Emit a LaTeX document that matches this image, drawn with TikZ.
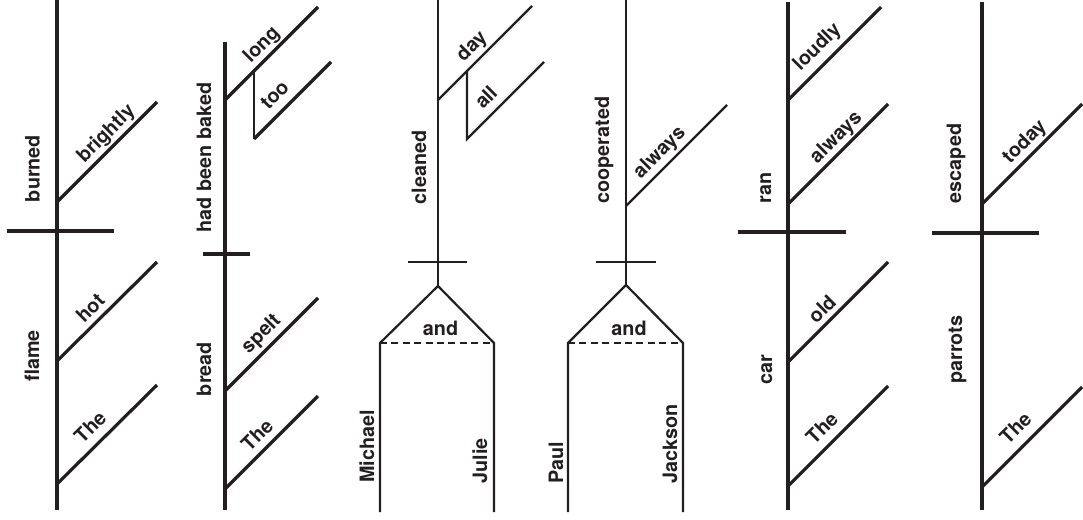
\documentclass[tikz,border=0pt]{standalone}
\usepackage{fontspec}
\setmainfont{TeX Gyre Heros}
\usetikzlibrary{calc}
\definecolor{ink}{RGB}{35,31,32}
\begin{document}
\begin{tikzpicture}[x=1pt,y=1pt,
  thickln/.style={line width=3.2pt, draw=ink},
  thinln/.style={line width=2.2pt, draw=ink},
  dashln/.style={line width=2pt, draw=ink, dash pattern=on 7pt off 4.4pt},
  word/.style={font=\fontsize{19.8}{20}\selectfont\bfseries, text=ink, inner sep=0pt},
  vword/.style={word, rotate=90, anchor=base},
  dword/.style={word, rotate=45, anchor=base},
  hword/.style={word, anchor=base}]
\useasboundingbox (0,0) rectangle (1083,-519);

% ---------- Diagram 1: The hot flame burned brightly
\coordinate (a1t) at (57,0);     \coordinate (a1b) at (57,-510);
\coordinate (a1l) at (7,-231);   \coordinate (a1r) at (114,-231);
\coordinate (a1p) at (57,-202);  \coordinate (a1q) at (157,-102);
\coordinate (a1m) at (57,-361);  \coordinate (a1n) at (157,-262);
\coordinate (a1u) at (57,-484);  \coordinate (a1v) at (157,-385);
\draw[thickln] (a1t) -- (a1b);
\draw[thickln] (a1l) -- (a1r);
\draw[thickln] (a1p) -- (a1q);
\draw[thickln] (a1m) -- (a1n);
\draw[thickln] (a1u) -- (a1v);
\node[vword] (w1a) at (39.5,-168.5) {burned};
\node[vword] (w1b) at (39,-356) {flame};
\node[dword] (w1c) at ($(a1p)+(45:83)+(135:7.7)$) {brightly};
\node[dword] (w1d) at ($(a1m)+(45:61)+(135:7)$) {hot};
\node[dword] (w1e) at ($(a1u)+(45:64)+(135:10)$) {The};

% ---------- Diagram 2: The spelt bread had been baked too long
\coordinate (a2t) at (225,-42);  \coordinate (a2b) at (225,-510);
\coordinate (a2l) at (203,-254); \coordinate (a2r) at (250,-254);
\coordinate (a2p) at (225,-100); \coordinate (a2q) at (318,-7);
\coordinate (a2k) at (254,-71);  \coordinate (a2j) at (254,-139);
\coordinate (a2z) at (331,-62);
\coordinate (a2m) at (225,-391); \coordinate (a2n) at (318,-298);
\coordinate (a2u) at (225,-489); \coordinate (a2v) at (318,-396);
\draw[thickln] (a2t) -- (a2b);
\draw[thickln] (a2l) -- (a2r);
\draw[thickln] (a2p) -- (a2q);
\draw[thinln] (a2k) -- (a2j);
\draw[thickln] (a2j) -- (a2z);
\draw[thickln] (a2m) -- (a2n);
\draw[thickln] (a2u) -- (a2v);
\node[vword] (w2a) at (211,-157.5) {had been baked};
\node[vword] (w2b) at (211,-369) {bread};
\node[dword] (w2c) at ($(a2p)+(45:65)+(135:7.4)$) {long};
\node[dword] (w2d) at ($(a2j)+(45:46)+(135:10)$) {too};
\node[dword] (w2e) at ($(a2m)+(45:66)+(135:9)$) {spelt};
\node[dword] (w2f) at ($(a2u)+(45:61)+(135:8.5)$) {The};

% ---------- Diagram 3: Michael and Julie cleaned all day
\coordinate (a3t) at (438,0);    \coordinate (a3x) at (438,-286);
\coordinate (a3l) at (408,-262); \coordinate (a3r) at (467,-262);
\coordinate (a3p) at (438,-100); \coordinate (a3q) at (532,-6);
\coordinate (a3k) at (467,-71);  \coordinate (a3j) at (467,-139);
\coordinate (a3z) at (544,-62);
\coordinate (a3fl) at (380,-343); \coordinate (a3fr) at (494,-343);
\coordinate (a3bl) at (380,-512); \coordinate (a3br) at (494,-512);
\draw[thinln] (a3t) -- (a3x);
\draw[thinln] (a3l) -- (a3r);
\draw[thinln] (a3p) -- (a3q);
\draw[thinln] (a3k) -- (a3j) -- (a3z);
\draw[thinln] (a3bl) -- (a3fl) -- (a3x) -- (a3fr) -- (a3br);
\draw[dashln] (a3fl) -- (a3fr);
\node[vword] (w3a) at (426,-167.5) {cleaned};
\node[vword] (w3b) at (374,-446.5) {Michael};
\node[vword] (w3c) at (487,-461) {Julie};
\node[hword] (w3d) at (440.5,-335) {and};
\node[dword] (w3e) at ($(a3p)+(45:62)+(135:8.4)$) {day};
\node[dword] (w3f) at ($(a3j)+(45:43)+(135:9.3)$) {all};

% ---------- Diagram 4: Paul and Jackson always cooperated
\coordinate (a4t) at (626,0);    \coordinate (a4x) at (626,-285);
\coordinate (a4l) at (596,-262); \coordinate (a4r) at (656,-262);
\coordinate (a4p) at (626,-206); \coordinate (a4q) at (727,-105);
\coordinate (a4fl) at (568,-343); \coordinate (a4fr) at (683,-343);
\coordinate (a4bl) at (568,-512); \coordinate (a4br) at (683,-512);
\draw[thinln] (a4t) -- (a4x);
\draw[thinln] (a4l) -- (a4r);
\draw[thinln] (a4p) -- (a4q);
\draw[thinln] (a4bl) -- (a4fl) -- (a4x) -- (a4fr) -- (a4br);
\draw[dashln] (a4fl) -- (a4fr);
\node[vword] (w4a) at (609,-150) {cooperated};
\node[vword] (w4b) at (563,-462.5) {Paul};
\node[vword] (w4c) at (677,-444) {Jackson};
\node[hword] (w4d) at (629,-335) {and};
\node[dword] (w4e) at ($(a4p)+(45:61.5)+(135:8.4)$) {always};

% ---------- Diagram 5: The old car always ran loudly
\coordinate (a5t) at (788,-2);   \coordinate (a5b) at (788,-510);
\coordinate (a5l) at (738,-232); \coordinate (a5r) at (846,-232);
\coordinate (a5p) at (788,-100); \coordinate (a5q) at (881,-7);
\coordinate (a5s) at (788,-204); \coordinate (a5w) at (888,-104);
\coordinate (a5m) at (788,-362); \coordinate (a5n) at (888,-262);
\coordinate (a5u) at (788,-486); \coordinate (a5v) at (888,-386);
\draw[thickln] (a5t) -- (a5b);
\draw[thickln] (a5l) -- (a5r);
\draw[thickln] (a5p) -- (a5q);
\draw[thickln] (a5s) -- (a5w);
\draw[thickln] (a5m) -- (a5n);
\draw[thickln] (a5u) -- (a5v);
\node[vword] (w5a) at (771,-188) {ran};
\node[vword] (w5b) at (772,-370) {car};
\node[dword] (w5c) at ($(a5p)+(45:58)+(135:11)$) {loudly};
\node[dword] (w5d) at ($(a5s)+(45:81)+(135:7.4)$) {always};
\node[dword] (w5e) at ($(a5m)+(45:61.5)+(135:6.4)$) {old};
\node[dword] (w5f) at ($(a5u)+(45:65)+(135:10)$) {The};

% ---------- Diagram 6: The parrots escaped today
\coordinate (a6t) at (982,-2);   \coordinate (a6b) at (982,-510);
\coordinate (a6l) at (932,-233); \coordinate (a6r) at (1039,-233);
\coordinate (a6p) at (982,-204); \coordinate (a6q) at (1082,-104);
\coordinate (a6u) at (982,-487); \coordinate (a6v) at (1082,-387);
\draw[thickln] (a6t) -- (a6b);
\draw[thickln] (a6l) -- (a6r);
\draw[thickln] (a6p) -- (a6q);
\draw[thickln] (a6u) -- (a6v);
\node[vword] (w6a) at (961,-163.5) {escaped};
\node[vword] (w6b) at (962,-349.5) {parrots};
\node[dword] (w6c) at ($(a6p)+(45:74)+(135:8)$) {today};
\node[dword] (w6d) at ($(a6u)+(45:65.4)+(135:11)$) {The};
\end{tikzpicture}
\end{document}
